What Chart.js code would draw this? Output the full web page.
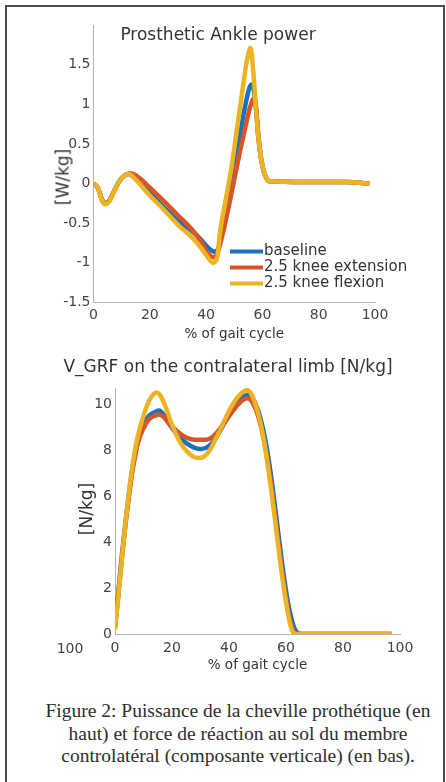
<!DOCTYPE html>
<html>
<head>
<meta charset="utf-8">
<script src="https://cdn.jsdelivr.net/npm/chart.js@4.4.0/dist/chart.umd.min.js"></script>
<style>
  body { margin: 0; background: #fff; }
  #page { position: relative; width: 446px; height: 782px; overflow: hidden; background: #fff; }
  #frame { position: absolute; left: 5px; top: 5px; width: 440px; height: 800px; box-sizing: border-box;
           border: 2px solid #4d4d4d; border-bottom: none; }
  canvas { position: absolute; left: 0; }
  .txt { position: absolute; font-family: "DejaVu Sans", sans-serif; color: #333; white-space: nowrap; line-height: 1; }
  .ttl { font-size: 17px; transform: translateX(-50%); }
  .ylab { font-size: 17px; transform: translate(-50%, -50%) rotate(-90deg); }
  #caption { position: absolute; left: 238px; top: 700px; transform: translateX(-50%); text-align: center;
             font-family: "Liberation Serif", "Times New Roman", serif; font-size: 19.5px; line-height: 22.5px;
             color: #2e2e2e; white-space: nowrap; }
</style>
</head>
<body>
<div id="page">
  <div id="frame"></div>
  <canvas id="power" width="446" height="345" style="top:0"></canvas>
  <canvas id="grf" width="446" height="310" style="top:370px"></canvas>
  <div class="txt ttl" style="left:218px; top:25.6px">Prosthetic Ankle power</div>
  <div class="txt ylab" style="left:63px; top:177px">[W/kg]</div>
  <div class="txt ttl" style="left:228px; top:357.6px">V_GRF on the contralateral limb [N/kg]</div>
  <div class="txt ylab" style="left:86px; top:509px">[N/kg]</div>
  <div class="txt" style="left:70px; top:648px; font-size:14px; color:#444; transform:translate(-50%,-50%)">100</div>
  <div id="caption">Figure 2: Puissance de la cheville prothétique (en<br>haut) et force de réaction au sol du membre<br>controlatéral (composante verticale) (en bas).</div>
</div>
<script>
// series labels
var seriesNames = ["baseline", "2.5 knee extension", "2.5 knee flexion"];
var seriesColors = ["#1a72bb", "#d6552a", "#eeb322"];

// prosthetic ankle power [W/kg] vs % gait cycle, pairs [x, y]
var powerBaseline = [[0,0],[1.5,-0.05],[3,-0.2],[4,-0.25],[5.5,-0.22],[7,-0.12],[9,0.02],[11,0.1],[12.5,0.12],
  [15,0.06],[20,-0.12],[25,-0.3],[30,-0.47],[35,-0.6],[38,-0.7],[41,-0.82],[43,-0.86],[44.5,-0.8],[46,-0.5],
  [48,-0.12],[50,0.25],[52,0.62],[54,1.0],[55.3,1.2],[56.3,1.25],[57.6,1.0],[58.5,0.6],[59.6,0.3],[61,0.1],
  [62.5,0.03],[75,0.02],[90,0.02],[98,0]];
var powerExtension = [[0,0],[1.5,-0.05],[3,-0.2],[4,-0.25],[5.5,-0.22],[7,-0.12],[9,0.02],[11,0.1],[13,0.13],
  [16,0.08],[20,-0.05],[25,-0.22],[30,-0.4],[35,-0.58],[38,-0.72],[40,-0.84],[42.5,-0.93],[44,-0.88],[46,-0.62],
  [48,-0.3],[50,0.05],[52,0.4],[54,0.72],[55.5,0.95],[57.2,1.08],[57.9,0.9],[58.6,0.6],[59.6,0.3],[61,0.1],
  [62.5,0.03],[75,0.02],[90,0.02],[98,0]];
var powerFlexion = [[0,0],[1.5,-0.05],[3,-0.21],[4,-0.26],[5.5,-0.23],[7,-0.13],[9,0.02],[11,0.1],[12.5,0.12],
  [15,0.05],[20,-0.15],[25,-0.33],[30,-0.52],[35,-0.68],[38,-0.8],[40,-0.9],[42.5,-1.0],[44,-0.92],[45,-0.6],
  [47,-0.2],[49,0.2],[51,0.7],[53,1.2],[54.5,1.55],[55.8,1.71],[56.8,1.4],[57.6,1.0],[58.5,0.6],[59.6,0.3],
  [61,0.1],[62.5,0.03],[75,0.02],[90,0.02],[98,0]];

// vertical GRF on contralateral limb [N/kg] vs % gait cycle
var grfBaseline = [[0,0.3],[1,1.6],[2,2.9],[3,4.1],[4,5.2],[5,6.2],[6,7.1],[7,7.8],[8,8.4],[10,9.1],[12,9.5],
  [14,9.65],[15.5,9.72],[17,9.55],[19,9.15],[22,8.65],[25,8.3],[28,8.1],[30,8.05],[32,8.1],[34,8.3],[36,8.65],
  [39,9.3],[42,9.9],[44.5,10.3],[46.8,10.4],[48.5,10.2],[50.5,9.6],[52.5,8.6],[54.5,7.1],[56.5,5.2],[58.5,3.2],
  [60.5,1.5],[62.5,0.4],[64,0.05],[65.5,0],[97,0]];
var grfExtension = [[0,0.3],[1,1.5],[2,2.8],[3,4.0],[4,5.1],[5,6.1],[6,7.0],[7,7.7],[8,8.3],[10,8.95],[12,9.35],
  [14,9.5],[15.5,9.55],[17,9.45],[19,9.15],[22,8.8],[25,8.55],[28,8.45],[30,8.45],[32,8.45],[34,8.55],[36,8.8],
  [39,9.3],[42,9.8],[44.5,10.15],[46.5,10.25],[48.3,10.05],[50.3,9.45],[52.3,8.4],[54.3,6.9],[56.3,5.0],
  [58.3,3.0],[60.3,1.3],[62,0.3],[63.5,0],[97,0]];
var grfFlexion = [[0,0.2],[1,1.4],[2,2.7],[3,4.0],[4,5.2],[5,6.3],[6,7.2],[7,8.0],[8,8.6],[10,9.5],[12,10.15],
  [14.5,10.5],[16,10.35],[18,9.8],[20,9.1],[23,8.3],[26,7.85],[29,7.65],[31,7.7],[33,7.95],[35,8.4],[37,8.9],
  [40,9.7],[43,10.3],[46.3,10.6],[48,10.4],[50,9.7],[52,8.6],[54,7.0],[56,5.1],[58,3.1],[60,1.4],[61.5,0.4],
  [62.7,0.05],[64,0],[97,0]];

var xTicks = [0, 20, 40, 60, 80, 100];

function pts(a) {
  return a.map(function (p) { return { x: p[0], y: p[1] }; });
}

function makeSets(list) {
  return list.map(function (s, i) {
    return {
      label: seriesNames[i],
      data: pts(s),
      borderColor: seriesColors[i],
      backgroundColor: seriesColors[i],
      borderWidth: 4.5,
      pointRadius: 0,
      cubicInterpolationMode: "monotone",
      order: 3 - i
    };
  });
}

var tickFont = { family: "DejaVu Sans", size: 14 };
var tickColor = "#444";
var axisBorder = { display: true, color: "#b4b4b4", width: 1 };

var legendLines = {
  id: "legendLines",
  afterDatasetsDraw: function (chart) {
    if (chart.canvas.id !== "power") return;
    var ctx = chart.ctx, a = chart.chartArea;
    var x0 = a.left + 136.5, y0 = a.bottom - 51;
    ctx.save();
    ctx.font = '15px "DejaVu Sans"';
    ctx.textBaseline = "middle";
    chart.data.datasets.forEach(function (ds, i) {
      var y = y0 + i * 16;
      ctx.strokeStyle = ds.borderColor;
      ctx.lineWidth = 4;
      ctx.beginPath();
      ctx.moveTo(x0, y);
      ctx.lineTo(x0 + 33, y);
      ctx.stroke();
      ctx.fillStyle = "#333";
      ctx.fillText(ds.label, x0 + 34, y);
    });
    ctx.restore();
  }
};

function xScale(h, pad, titlePad) {
  return {
    type: "linear", min: 0, max: 100,
    afterBuildTicks: function (s) { s.ticks = xTicks.map(function (v) { return { value: v }; }); },
    afterFit: function (s) { s.height = h; },
    grid: { display: false, drawTicks: false },
    border: axisBorder,
    ticks: { font: tickFont, color: tickColor, padding: pad, maxRotation: 0, autoSkip: false },
    title: { display: true, text: "% of gait cycle", font: { family: "DejaVu Sans", size: 13.5 }, color: "#333",
             padding: { top: 0, bottom: titlePad } }
  };
}

new Chart(document.getElementById("power"), {
  type: "line",
  data: { datasets: makeSets([powerBaseline, powerExtension, powerFlexion]) },
  options: {
    responsive: false, animation: false, devicePixelRatio: 1,
    layout: { padding: { left: 30, right: 71, top: 25, bottom: 0 } },
    plugins: { legend: { display: false }, tooltip: { enabled: false } },
    scales: {
      x: xScale(42.5, 4, 2.6),
      y: {
        min: -1.5, max: 2,
        afterFit: function (s) { s.width = 63.5; },
        grid: { display: false, drawTicks: false },
        border: axisBorder,
        ticks: { stepSize: 0.5, font: tickFont, color: tickColor, padding: 3,
                 callback: function (v) { return v > 1.6 ? "" : String(v); } }
      }
    }
  },
  plugins: [legendLines]
});

new Chart(document.getElementById("grf"), {
  type: "line",
  data: { datasets: makeSets([grfBaseline, grfExtension, grfFlexion]) },
  options: {
    responsive: false, animation: false, devicePixelRatio: 1,
    layout: { padding: { left: 40, right: 46, top: 18, bottom: 0 } },
    plugins: { legend: { display: false }, tooltip: { enabled: false } },
    scales: {
      x: xScale(46, 5.5, 6.6),
      y: {
        min: 0, max: 10.7,
        afterFit: function (s) { s.width = 75; },
        grid: { display: false, drawTicks: false },
        border: axisBorder,
        ticks: { stepSize: 2, font: tickFont, color: tickColor, padding: 3,
                 callback: function (v) { return v % 2 === 0 ? String(v) : ""; } }
      }
    }
  }
});
</script>
</body>
</html>
